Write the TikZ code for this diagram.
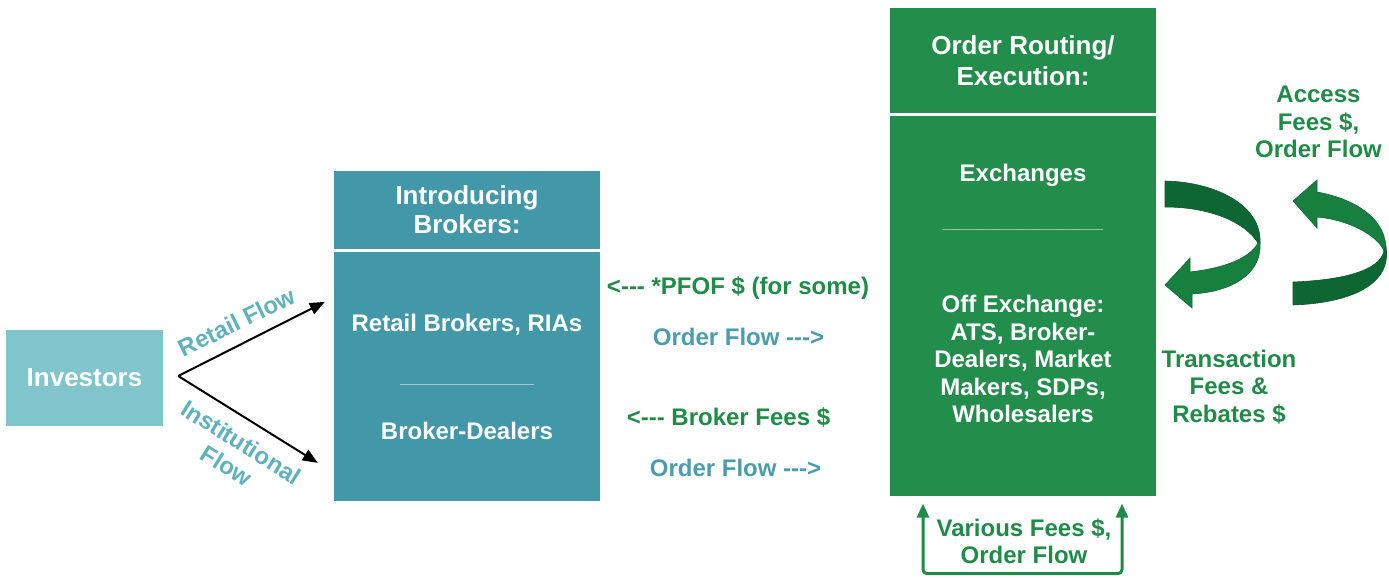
\documentclass[tikz,border=0pt]{standalone}
\usepackage{fontspec}
\setmainfont{Liberation Sans}
\usetikzlibrary{arrows.meta, positioning, calc}

\definecolor{tealclaro}{HTML}{80C4CC}
\definecolor{tealcaja}{HTML}{4298A8}
\definecolor{verdecaja}{HTML}{238E4B}
\definecolor{verdetexto}{HTML}{1E8C47}
\definecolor{tealtexto}{HTML}{4A9DAC}
\definecolor{tealflujo}{HTML}{5EB2BE}
\definecolor{verdeoscuro}{HTML}{0E6733}
\definecolor{verdemedio}{HTML}{18803F}

% guiones sin ligadura
\newcommand{\guiones}{-\kern0pt-\kern0pt-}

\begin{document}
\begin{tikzpicture}[
		x=1pt, y=-1pt, % coordenadas en pixeles, y hacia abajo
		node distance=3pt,
		% --- Estilos ---
		caja/.style={
			rectangle,
			minimum width=266pt,
			inner sep=0pt,
			text=white,
			align=center,
			font=\fontsize{26}{29}\selectfont\bfseries
		},
		texto_caja/.style={
			text=white,
			align=center,
			inner sep=0pt,
			font=\fontsize{24}{27.5}\selectfont\bfseries
		},
		separador/.style={
			inner sep=0pt,
			font=\fontsize{24}{27.5}\selectfont\bfseries
		},
		etiqueta/.style={
			align=center,
			inner sep=0pt,
			font=\fontsize{24}{27.5}\selectfont\bfseries
		},
		flecha_negra/.style={
			-{Triangle[length=15pt, width=12pt]},
			line width=2pt
		},
		flecha_verde/.style={
			{Triangle[length=14pt, width=12pt]}-{Triangle[length=14pt, width=12pt]},
			line width=3pt,
			draw=verdetexto,
			rounded corners=4pt
		},
		cinta_oscura/.style={fill=verdeoscuro, draw=verdeoscuro!85!black, line width=0.6pt},
		cinta_clara/.style={fill=verdemedio, draw=verdeoscuro, line width=0.6pt}
		]
		\useasboundingbox (0,0) rectangle (1389,578);
		
		% 1. Cajas principales
		\node[caja, fill=tealclaro, minimum width=157pt, minimum height=96pt] (investors) at (84.5,378) {Investors};
		
		\node[caja, fill=tealcaja, minimum height=78pt] (ibhead) at (467,210) {Introducing\\Brokers:};
		\node[caja, fill=tealcaja, minimum height=249pt, below=of ibhead] (ibbody) {};
		
		\node[caja, fill=verdecaja, minimum height=105pt] (orhead) at (1023,60.5) {Order Routing/\\[2pt]Execution:};
		\node[caja, fill=verdecaja, minimum height=380pt, below=of orhead] (orbody) {};
		
		% 2. Contenido de las cajas
		\node[texto_caja] (retailbk) at (467,325) {Retail Brokers, RIAs};
		\node[separador, text=tealcaja!45!white] (sep_ib) at (467,384) {\_\_\_\_\_\_\_\_\_\_};
		\node[texto_caja] (bkdealers) at (467,431) {Broker-Dealers};
		
		\node[texto_caja] (exchanges) at (1023,175) {Exchanges};
		\node[separador, text=verdecaja!45!white] (sep_or) at (1023,229) {\_\_\_\_\_\_\_\_\_\_\_\_};
		\node[texto_caja] (offexch) at (1023,359) {Off Exchange:\\ATS, Broker-\\Dealers, Market\\Makers, SDPs,\\Wholesalers};
		
		% 3. Flechas de los inversores
		\coordinate (fork) at ($(investors.east)+(15,-2)$);
		\coordinate (punta_retail) at ($(ibbody.west)+(-9,-75)$);
		\coordinate (punta_inst) at ($(ibbody.west)+(-16,86)$);
		\draw[flecha_negra] (fork) -- (punta_retail);
		\draw[flecha_negra] (fork) -- (punta_inst);
		\node[etiqueta, text=tealflujo, rotate=26] (retailflow) at (237,322) {Retail Flow};
		\node[etiqueta, text=tealflujo, rotate=-32] (instflow) at (234,454) {Institutional\\Flow};
		
		% 4. Etiquetas entre cajas
		\node[etiqueta, text=verdetexto] (pfof) at (738,288) {<\guiones{} *PFOF \$ (for some)};
		\node[etiqueta, text=tealtexto] (flujo1) at (738.5,337) {Order Flow \guiones>};
		\node[etiqueta, text=verdetexto] (brokerfees) at (728.5,417) {<\guiones{} Broker Fees \$};
		\node[etiqueta, text=tealtexto] (flujo2) at (735.5,468) {Order Flow \guiones>};
		
		% 5. Etiquetas a la derecha
		\node[etiqueta, text=verdetexto] (access) at (1318.5,122) {Access\\Fees \$,\\Order Flow};
		\node[etiqueta, text=verdetexto] (transaction) at (1229,387) {Transaction\\Fees \&\\Rebates \$};
		
		% 6. Flechas curvas (cintas)
		% primera: vuelve hacia la caja
		\fill[cinta_oscura] (1165,181) .. controls (1215,182) and (1262,205) .. (1260,243)
		-- (1258,243) .. controls (1245,222) and (1210,207) .. (1165,207) -- cycle;
		\fill[cinta_clara] (1260,243) .. controls (1262,275) and (1230,292) .. (1192,294)
		-- (1192,308) -- (1165,285) -- (1190,258) -- (1190,272)
		.. controls (1225,268) and (1250,258) .. (1258,243) -- cycle;
		% segunda: punta arriba
		\fill[cinta_clara] (1293,201) -- (1317,180) -- (1317,192)
		.. controls (1350,198) and (1384,215) .. (1386,247)
		-- (1384,251) .. controls (1378,236) and (1350,220) .. (1317,217)
		-- (1317,228) -- cycle;
		\fill[cinta_oscura] (1386,247) .. controls (1392,285) and (1350,303) .. (1293,305)
		-- (1293,282) .. controls (1345,280) and (1380,270) .. (1384,251) -- cycle;
		
		% 7. Flecha inferior en U
		\coordinate (vf_izq) at ($(orbody.south)+(-100,7)$);
		\coordinate (vf_der) at ($(orbody.south)+(99,7)$);
		\draw[flecha_verde] (vf_izq) -- ++(0,70) -| (vf_der);
		\node[etiqueta, text=verdetexto] (various) at (1024,541) {Various Fees \$,\\Order Flow};
		
	\end{tikzpicture}
\end{document}
